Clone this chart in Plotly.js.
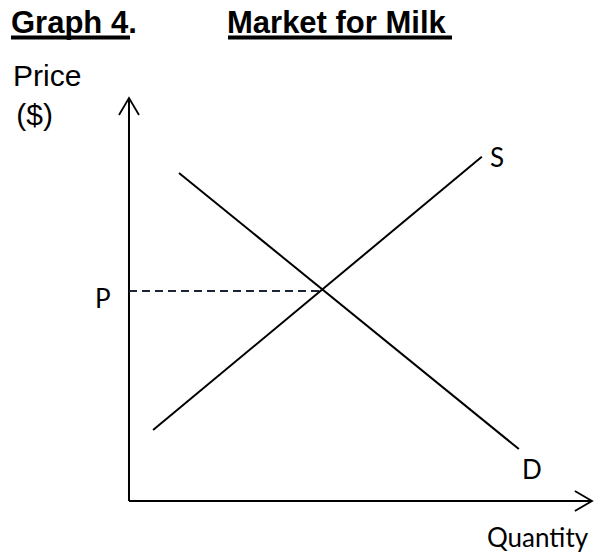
<!DOCTYPE html>
<html>
<head>
<meta charset="utf-8">
<script src="https://cdn.plot.ly/plotly-3.0.1.min.js"></script>
<style>html,body{margin:0;padding:0;background:#fff;}#chart{width:600px;height:553px;}</style>
</head>
<body>
<div id="chart"></div>
<script>
// ---- data ----
const supplyQ = [0.52, 7.62];
const supplyP = [1.76, 8.54];
const demandQ = [1.08, 8.42];
const demandP = [8.14, 1.29];
const eqQ = 4.17;
const eqP = 5.21;
const qMax = 10;
const pMax = 10;
const titleLeft = "Graph 4.";
const titleRight = "Market for Milk";
const yLabel1 = "Price";
const yLabel2 = " ($)";
const xLabel = "Quantity";
const supplyLabel = "S";
const demandLabel = "D";
const priceLabel = "P";

// ---- styling / geometry ----
const W = 600, H = 553;
const headQ = 0.37, headQw = 0.248;   // x-axis arrow head size (data units)
const headP = 0.42, headPw = 0.216;   // y-axis arrow head size
const px = v => v / W, py = v => 1 - v / H;

const black = {color: '#000', width: 2};
const traces = [
  {x: [0, 0], y: [0, pMax], mode: 'lines', line: black, hoverinfo: 'skip'},
  {x: [0, qMax], y: [0, 0], mode: 'lines', line: black, hoverinfo: 'skip'},
  {x: [-headPw, 0, headPw], y: [pMax - headP, pMax, pMax - headP], mode: 'lines', line: {color: '#000', width: 1.8}, hoverinfo: 'skip'},
  {x: [qMax - headQ, qMax, qMax - headQ], y: [headQw, 0, -headQw], mode: 'lines', line: {color: '#000', width: 1.8}, hoverinfo: 'skip'},
  {x: [0, eqQ], y: [eqP, eqP], mode: 'lines', line: {color: '#1a2636', width: 2, dash: '8px,5px'}, hoverinfo: 'skip'},
  {x: supplyQ, y: supplyP, mode: 'lines', line: black, name: 'S'},
  {x: demandQ, y: demandP, mode: 'lines', line: black, name: 'D'}
];

const arial = 'Liberation Sans, Arial, sans-serif';
const cal = 'Lato, Carlito, Calibri, sans-serif';
const ann = (text, x, y, size, family, xanchor, extra) => Object.assign({
  text: text, x: px(x), y: py(y), xref: 'paper', yref: 'paper',
  xanchor: xanchor, yanchor: 'middle', showarrow: false,
  font: {family: family, size: size, color: '#000'}
}, extra || {});

const annotations = [
  ann('<b>' + titleLeft + '</b>', 9, 22, 31, arial, 'left'),
  ann('<b>' + titleRight + '</b>', 225, 22, 31, arial, 'left'),
  ann(yLabel1, 11, 75, 30, arial, 'left'),
  ann(yLabel2, 6, 114, 30, arial, 'left'),
  ann(priceLabel, 103, 298, 26, cal, 'center'),
  ann(supplyLabel, 497, 157, 26, cal, 'center'),
  ann(demandLabel, 532, 469, 26, cal, 'center'),
  ann(xLabel, 591, 537, 26, cal, 'right')
];

const shapes = [
  {type: 'line', xref: 'paper', yref: 'paper', x0: px(11), x1: px(130), y0: py(37.5), y1: py(37.5), line: {color: '#000', width: 4}},
  {type: 'line', xref: 'paper', yref: 'paper', x0: px(228), x1: px(452), y0: py(37.5), y1: py(37.5), line: {color: '#000', width: 4}}
];

const layout = {
  width: W, height: H,
  margin: {l: 0, r: 0, t: 0, b: 0, pad: 0},
  paper_bgcolor: '#fff', plot_bgcolor: '#fff',
  showlegend: false,
  xaxis: {range: [-2.786, 10.173], visible: false, fixedrange: true},
  yaxis: {range: [-1.290, 12.432], visible: false, fixedrange: true},
  annotations: annotations,
  shapes: shapes
};

Plotly.newPlot('chart', traces, layout, {displayModeBar: false, staticPlot: true});
</script>
</body>
</html>
